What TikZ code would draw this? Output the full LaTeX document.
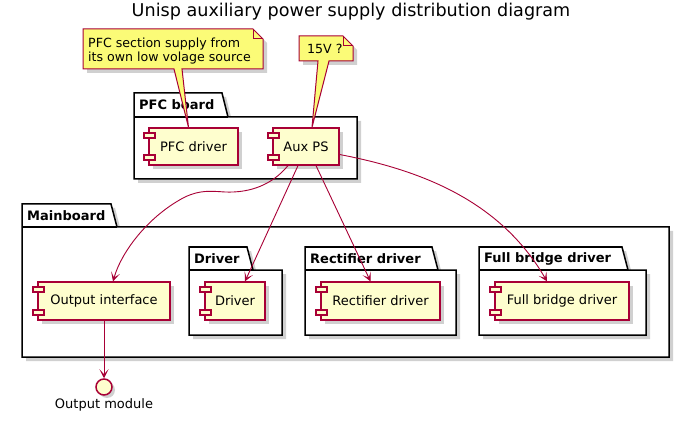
\documentclass[tikz,border=0pt]{standalone}
\usepackage{fontspec}
\setmainfont{DejaVu Sans}
\usetikzlibrary{arrows.meta,calc}
\definecolor{crim}{HTML}{A80036}
\definecolor{compfill}{HTML}{FEFECE}
\definecolor{notefill}{HTML}{FBFB77}
\tikzset{
 shadowc/.style={fill=black!60, opacity=0.3},
 pkgbox/.style={draw=black, line width=1.5pt, fill=white, line join=miter},
 pkglabel/.style={font=\fontsize{13}{15}\selectfont\bfseries, inner sep=0, anchor=west},
 comp/.style={draw=crim, fill=compfill, line width=1.2pt, inner sep=0, font=\fontsize{13}{15}\selectfont},
 compsmall/.style={draw=crim, fill=compfill, line width=1.2pt},
 notebox/.style={draw=crim, fill=notefill, line width=1pt, line join=miter},
 notetext/.style={font=\fontsize{12.6}{14}\selectfont, align=left, inner sep=0},
 conn/.style={draw=crim, line width=0.9pt, -{Stealth[length=9pt,width=9pt,inset=5pt]}},
}
% package: name, x1, tabtop, tabright, bodytop, x2, y2, label
\newcommand\umlpkg[8]{%
 \fill[shadowc, shift={(4,4)}] (#2,#3) -- (#4,#3) -- (#4+6,#5) -- (#6,#5) -- (#6,#7) -- (#2,#7) -- cycle;
 \filldraw[pkgbox] (#2,#3) -- (#4,#3) -- (#4+6,#5) -- (#6,#5) -- (#6,#7) -- (#2,#7) -- cycle;
 \draw[pkgbox, fill=none] (#2,#5) -- (#4+6,#5);
 \node[pkglabel] (#1) at (#2+5,{(#3+#5)/2}) {#8};
}
% component: name, x1, y1, x2, y2, text
\newcommand\umlcomp[6]{%
 \fill[shadowc] (#2+4,#3+4) rectangle (#4+4,#5+4);
 \node[comp, minimum width={#4-#2}, minimum height={#5-#3}] (#1) at ({(#2+#4)/2},{(#3+#5)/2}) {#6};
 \filldraw[compsmall] (#2-5,#3+5) rectangle (#2+6,#3+10);
 \filldraw[compsmall] (#2-5,#5-10) rectangle (#2+6,#5-5);
}
\begin{document}
\begin{tikzpicture}[x=1pt,y=-1pt]
\useasboundingbox (0,0) rectangle (680,422);
\fill[white] (0,0) rectangle (680,422);

\node[font=\fontsize{17.6}{20}\selectfont, anchor=base] (title) at (351,17) {Unisp auxiliary power supply distribution diagram};

% packages
\umlpkg{pfcpkg}{134}{93}{222}{117}{357}{179}{PFC board}
\umlpkg{mainpkg}{22}{204}{111}{227}{669}{357}{Mainboard}
\umlpkg{drvpkg}{189}{247}{247}{270}{282}{335}{Driver}
\umlpkg{rectpkg}{305}{247}{432}{270}{456}{335}{Rectifier driver}
\umlpkg{fbpkg}{479}{247}{622}{270}{646}{335}{Full bridge driver}

% components
\umlcomp{pfcd}{149}{128}{238}{165}{PFC driver}
\umlcomp{aux}{273}{128}{339}{165}{Aux PS}
\umlcomp{outif}{38}{282}{170}{320}{Output interface}
\umlcomp{drv}{205}{282}{265}{320}{Driver}
\umlcomp{rect}{321}{282}{440}{320}{Rectifier driver}
\umlcomp{fb}{495}{282}{629}{320}{Full bridge driver}

% interface
\fill[shadowc] (107,390) circle (8);
\node[circle, draw=crim, fill=compfill, line width=1.5pt, minimum size=16pt, inner sep=0] (om) at (104,387) {};
\node[font=\fontsize{13}{15}\selectfont, anchor=base] (oml) at (104,408) {Output module};

% notes
\fill[shadowc, shift={(4,4)}] (83,29) -- (253,29) -- (263,39) -- (263,69) -- (83,69) -- cycle;
\filldraw[notebox] (83,29) -- (253,29) -- (263,39) -- (263,69) -- (182,69) -- ($(pfcd.north)+(-5,0)$) -- (174,69) -- (83,69) -- cycle;
\draw[notebox, fill=none] (253,29) -- (253,39) -- (263,39);
\node[notetext, anchor=north west] (n1) at (88,37.5) {PFC section supply from\\its own low volage source};

\fill[shadowc, shift={(4,4)}] (299,36) -- (343,36) -- (353,46) -- (353,61) -- (299,61) -- cycle;
\filldraw[notebox] (299,36) -- (343,36) -- (353,46) -- (353,61) -- (329,61) -- ($(aux.north)+(6,0)$) -- (318,61) -- (299,61) -- cycle;
\draw[notebox, fill=none] (343,36) -- (343,46) -- (353,46);
\node[notetext, anchor=base west] (n2) at (307,54) {15V ?};

% connectors
\draw[conn] ($(aux.south)+(-18,0)$) .. controls (272,185) and (250,193) .. (225,192) .. controls (210,191) and (200,190) .. (185,197) .. controls (150,215) and (122,250) .. ($(outif.north)+(9,0)$);
\draw[conn] ($(aux.south)+(-8,0)$) -- ($(drv.north)+(10,0)$);
\draw[conn] ($(aux.south)+(10,0)$) -- ($(rect.north)+(-10,0)$);
\draw[conn] ($(aux.east)+(0,8)$) .. controls (420,170) and (500,200) .. ($(fb.north)+(-15,0)$);
\draw[conn] (outif.south) -- (om.north);
\end{tikzpicture}
\end{document}
